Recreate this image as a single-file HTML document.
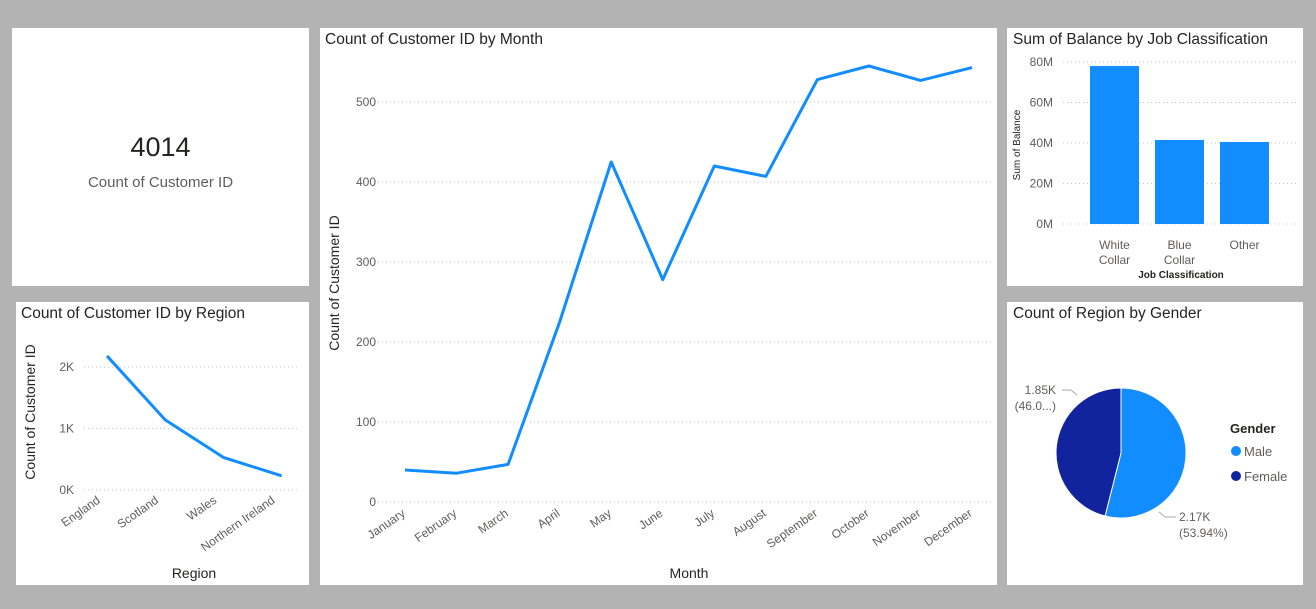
<!DOCTYPE html>
<html><head><meta charset="utf-8">
<style>
body{margin:0;width:1316px;height:609px;background:#b3b3b3;font-family:"Liberation Sans","DejaVu Sans",sans-serif;overflow:hidden;position:relative}
.p{position:absolute;background:#fff}
.t{position:absolute;left:9px;top:3px;font-size:15.5px;color:#252423}
svg{position:absolute;left:0;top:0}
</style></head><body>
<div class="p" style="left:12px;top:28px;width:297px;height:258px">
 <div style="position:absolute;top:104px;width:100%;text-align:center;font-size:27px;color:#252423">4014</div>
 <div style="position:absolute;top:146px;width:100%;text-align:center;font-size:15px;color:#605e5c">Count of Customer ID</div>
</div>
<div class="p" style="left:16px;top:302px;width:293px;height:283px"><div class="t" style="left:5px">Count of Customer ID by Region</div></div>
<div class="p" style="left:320px;top:28px;width:677px;height:557px"><div class="t" style="left:5px">Count of Customer ID by Month</div></div>
<div class="p" style="left:1007px;top:28px;width:296px;height:258px"><div class="t" style="left:6px">Sum of Balance by Job Classification</div></div>
<div class="p" style="left:1007px;top:302px;width:296px;height:283px"><div class="t" style="left:6px">Count of Region by Gender</div></div>
<svg id="s" width="1316" height="609" font-family="Liberation Sans, sans-serif"></svg>
<script>
const months=["January","February","March","April","May","June","July","August","September","October","November","December"];
const monthCounts=[40,36,47,225,425,278,420,407,528,545,527,543];
const monthTicks=[0,100,200,300,400,500];
const regions=["England","Scotland","Wales","Northern Ireland"];
const regionCounts=[2180,1140,530,230];
const regionTicks=[0,1000,2000];
const regionTickLabels=["0K","1K","2K"];
const jobs=[["White","Collar"],["Blue","Collar"],["Other"]];
const jobBalance=[78,41.5,40.5];
const jobTicks=[0,20,40,60,80];
const genders=["Male","Female"];
const genderCounts=[2165,1849];
const genderLabels=["2.17K","1.85K"];
const genderPct=["(53.94%)","(46.0...)"];
const genderColors=["#118dff","#12239e"];

const s=document.getElementById('s');
function el(tag,attrs,text,name){const e=document.createElementNS('http://www.w3.org/2000/svg',tag);for(const k in attrs)e.setAttribute(k,attrs[k]);if(text!==undefined)e.textContent=text;


s.appendChild(e);return e;}
function grid(x1,x2,y){el('line',{x1,x2,y1:y,y2:y,stroke:'#c8c6c4','stroke-dasharray':'1 3'},undefined,'gridline');}

// Month chart
{const y=v=>502-v*0.8, x=i=>405+i*51.55;
monthTicks.forEach(t=>{grid(370,992,y(t));el('text',{x:376,y:y(t)+4,'font-size':12,fill:'#605e5c','text-anchor':'end'},t,'y-tick-label');});
el('polyline',{points:monthCounts.map((v,i)=>x(i)+','+y(v)).join(' '),fill:'none',stroke:'#118dff','stroke-width':3,'stroke-linejoin':'round'},undefined,'month-line');
months.forEach((m,i)=>el('text',{x:x(i)+1,y:515,'font-size':12,fill:'#605e5c','text-anchor':'end',transform:`rotate(-35 ${x(i)+1} 515)`},m,'x-tick-label'));
el('text',{x:689,y:578,'font-size':14,fill:'#252423','text-anchor':'middle'},'Month','x-axis-title');
el('text',{x:339,y:283,'font-size':14,fill:'#252423','text-anchor':'middle',transform:'rotate(-90 339 283)'},'Count of Customer ID','y-axis-title');}

// Region chart
{const y=v=>490-v*0.0615, x=i=>107+i*58.2;
regionTicks.forEach((t,i)=>{grid(84,300,y(t));el('text',{x:74,y:y(t)+4,'font-size':12,fill:'#605e5c','text-anchor':'end'},regionTickLabels[i],'y-tick-label');});
el('polyline',{points:regionCounts.map((v,i)=>x(i)+','+y(v)).join(' '),fill:'none',stroke:'#118dff','stroke-width':3,'stroke-linejoin':'round'},undefined,'region-line');
regions.forEach((r,i)=>el('text',{x:x(i)-6,y:502,'font-size':12,fill:'#605e5c','text-anchor':'end',transform:`rotate(-35 ${x(i)-6} 502)`},r,'x-tick-label'));
el('text',{x:194,y:578,'font-size':14,fill:'#252423','text-anchor':'middle'},'Region','x-axis-title');
el('text',{x:35,y:412,'font-size':14,fill:'#252423','text-anchor':'middle',transform:'rotate(-90 35 412)'},'Count of Customer ID','y-axis-title');}

// Job chart
{const y=v=>224-v*2.025, x=i=>1090+i*65;
jobTicks.forEach(t=>{grid(1063,1297,y(t));el('text',{x:1053,y:y(t)+4,'font-size':12,fill:'#605e5c','text-anchor':'end'},t+'M','y-tick-label');});
jobBalance.forEach((v,i)=>el('rect',{x:x(i),y:y(v),width:49,height:224-y(v),fill:'#118dff'},undefined,'bar-'+i));
jobs.forEach((j,i)=>j.forEach((w,k)=>el('text',{x:x(i)+24.5,y:249+k*15,'font-size':12,fill:'#605e5c','text-anchor':'middle'},w,'x-tick-label')));
el('text',{x:1181,y:278,'font-size':10,fill:'#252423','text-anchor':'middle','font-weight':'bold'},'Job Classification','x-axis-title');
el('text',{x:1020,y:145,'font-size':10,fill:'#252423','text-anchor':'middle',transform:'rotate(-90 1020 145)'},'Sum of Balance','y-axis-title');}

// Pie
{const cx=1121,cy=453,r=65,tot=genderCounts.reduce((a,b)=>a+b,0);let a0=-Math.PI/2;
genderCounts.forEach((v,i)=>{const a1=a0+v/tot*2*Math.PI,large=(a1-a0)>Math.PI?1:0;
el('path',{d:`M${cx},${cy}L${cx+r*Math.cos(a0)},${cy+r*Math.sin(a0)}A${r},${r} 0 ${large} 1 ${cx+r*Math.cos(a1)},${cy+r*Math.sin(a1)}Z`,fill:genderColors[i],stroke:'#fff','stroke-width':1},undefined,'slice-'+genders[i].toLowerCase());a0=a1;});
el('polyline',{points:'1159,512 1165,517 1176,517',fill:'none',stroke:'#aaa'},undefined,'leader-line');
el('polyline',{points:'1077,395 1071,390 1062,390',fill:'none',stroke:'#aaa'},undefined,'leader-line');
el('text',{x:1179,y:521,'font-size':12,fill:'#605e5c'},genderLabels[0],'data-label');
el('text',{x:1179,y:537,'font-size':12,fill:'#605e5c'},genderPct[0],'data-label');
el('text',{x:1056,y:374+20,'font-size':12,fill:'#605e5c','text-anchor':'end'},genderLabels[1],'data-label');
el('text',{x:1056,y:410,'font-size':12,fill:'#605e5c','text-anchor':'end'},genderPct[1],'data-label');
el('text',{x:1230,y:433,'font-size':13,fill:'#252423','font-weight':'bold'},'Gender','legend-title');
genders.forEach((g,i)=>{el('circle',{cx:1236,cy:451+i*25,r:5,fill:genderColors[i]},undefined,'legend-marker');
el('text',{x:1244,y:456+i*25,'font-size':13,fill:'#605e5c'},g,'legend-entry');});}
</script>
</body></html>
